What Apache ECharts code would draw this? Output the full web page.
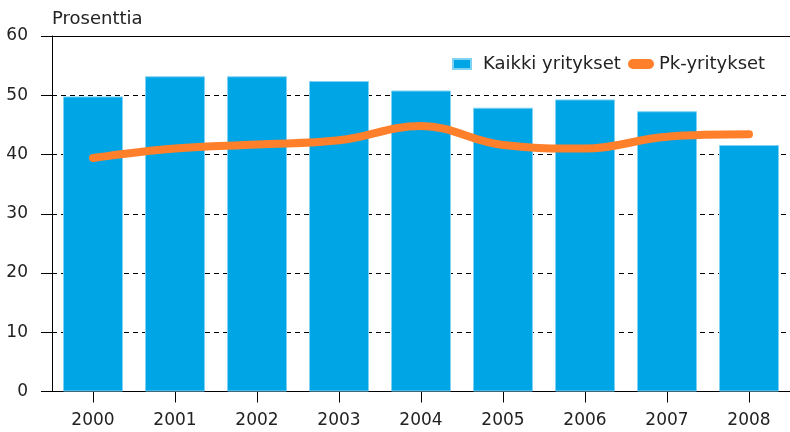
<!DOCTYPE html>
<html>
<head>
<meta charset="utf-8">
<script src="https://cdn.jsdelivr.net/npm/echarts@6/dist/echarts.min.js"></script>
<style>
html,body{margin:0;padding:0;background:#fff;}
#chart{width:790px;height:432px;}
</style>
</head>
<body>
<div id="chart"></div>
<script>
var years = ['2000','2001','2002','2003','2004','2005','2006','2007','2008'];
var kaikki = [49.8, 53.2, 53.2, 52.4, 50.8, 47.9, 49.3, 47.3, 41.6];
var pk = [39.4, 41.0, 41.7, 42.4, 44.8, 41.6, 41.0, 43.0, 43.4];
var yTicks = [0, 10, 20, 30, 40, 50, 60];
var unitLabel = 'Prosenttia';
var nameKaikki = 'Kaikki yritykset';
var namePk = 'Pk-yritykset';

var FONT = 'DejaVu Sans';
var TXT = '#222';
var chart = echarts.init(document.getElementById('chart'), null, {renderer:'canvas'});
chart.setOption({
  animation: false,
  backgroundColor: '#fff',
  textStyle: {fontFamily: FONT},
  title: {
    text: unitLabel, left: 52, top: 10, padding: 0,
    textStyle: {fontFamily: FONT, fontSize: 18, fontWeight: 'normal', color: TXT}
  },
  legend: [
    {
      data: [{name: nameKaikki, icon: 'rect'}],
      left: 452, top: 55, padding: 0, itemWidth: 18, itemHeight: 10,
      textStyle: {fontFamily: FONT, fontSize: 18, color: TXT, padding: [0,0,0,7]},
      selectedMode: false
    },
    {
      data: [{name: namePk, icon: 'path://M5,0 L21,0 A5,5 0 0 1 21,10 L5,10 A5,5 0 0 1 5,0 Z', itemStyle: {color: '#ff7f2a'}}],
      left: 628, top: 55, padding: 0, itemWidth: 26, itemHeight: 10,
      textStyle: {fontFamily: FONT, fontSize: 18, color: TXT},
      selectedMode: false
    }
  ],
  grid: {left: 52, top: 36, width: 743, height: 355.5, containLabel: false},
  xAxis: [
    {
      type: 'category', data: years,
      axisLine: {show: true, lineStyle: {color: '#000', width: 1}},
      axisTick: {show: true, alignWithLabel: true, length: 11, lineStyle: {color: '#000'}},
      axisLabel: {fontFamily: FONT, fontSize: 17, color: TXT, margin: 21},
      splitLine: {show: false}
    },
    {
      type: 'category', data: years, position: 'top',
      axisLine: {show: true, lineStyle: {color: '#000', width: 1}},
      axisTick: {show: false}, axisLabel: {show: false}, splitLine: {show: false}
    }
  ],
  yAxis: {
    type: 'value', min: yTicks[0], max: yTicks[yTicks.length-1], interval: 10,
    axisLine: {show: true, lineStyle: {color: '#000', width: 1}},
    axisTick: {show: true, length: 11, lineStyle: {color: '#000'}},
    axisLabel: {fontFamily: FONT, fontSize: 17, color: TXT, margin: 24},
    splitLine: {show: true, lineStyle: {color: '#000', type: [5, 4], width: 1}}
  },
  series: [
    {
      name: nameKaikki, type: 'bar', data: kaikki, barWidth: 60,
      itemStyle: {color: '#00a5e6', borderColor: '#7fd2f2', borderWidth: 1}
    },
    {
      name: namePk, type: 'line', data: pk, smooth: 0.4,
      showSymbol: false, symbol: 'none',
      lineStyle: {color: '#ff7f2a', width: 8, cap: 'round', join: 'round'},
      itemStyle: {color: '#ff7f2a'}
    }
  ]
});
</script>
</body>
</html>
